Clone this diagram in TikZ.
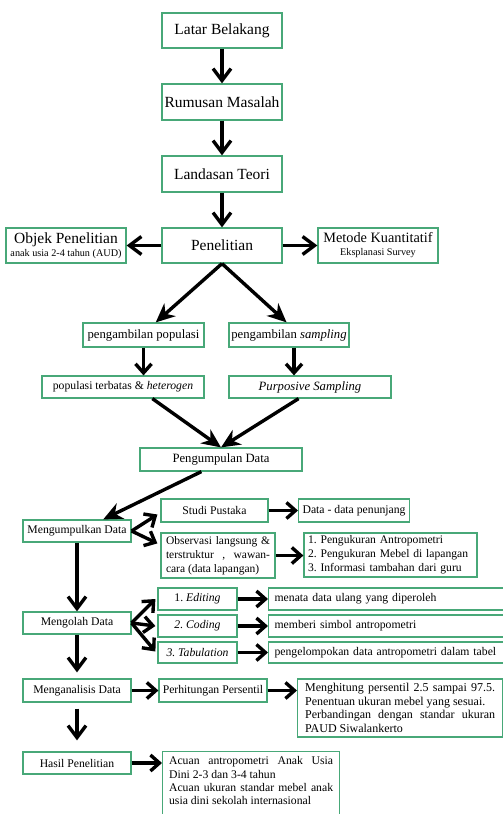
\documentclass[tikz,border=0pt]{standalone}
\usepackage{fontspec}
\setmainfont{Liberation Serif}
\usetikzlibrary{arrows.meta,calc}
\definecolor{bgreen}{RGB}{72,168,120}
\frenchspacing
\tikzset{
  box/.style={draw=bgreen, line width=1.2pt, inner sep=0pt, align=center, fill=white},
  big/.style={font=\fontsize{15.5}{18}\selectfont},
  mid/.style={font=\fontsize{12.7}{15}\selectfont},
  sml/.style={font=\fontsize{11.7}{14}\selectfont},
  arr/.style={line width=3.4pt, -{Straight Barb[length=12pt,width=18pt]}},
  arrs/.style={line width=3.4pt, -{Straight Barb[length=9pt,width=16pt]}},
  darr/.style={line width=3.4pt, -{Stealth[length=19pt,width=17pt,inset=6pt]}},
}
\begin{document}
\begin{tikzpicture}[x=1pt,y=-1pt]
\useasboundingbox (0,0) rectangle (503,814);
\fill[white] (0,0) rectangle (503,814);
\clip (0,0) rectangle (503,814);

% top column
\node[box,big,minimum width=120pt,minimum height=35pt] (lb) at (222,30.5) {Latar Belakang};
\node[box,big,minimum width=120pt,minimum height=36pt] (rm) at (222,102) {Rumusan Masalah};
\node[box,big,minimum width=120pt,minimum height=36pt] (lt) at (222,174) {Landasan Teori};
\node[box,big,minimum width=120pt,minimum height=35pt] (pen) at (222,245.5) {Penelitian};
\node[box,minimum width=120pt,minimum height=35pt] (obj) at (66,245.5)
  {{\fontsize{15.5}{17}\selectfont Objek Penelitian}\\[1pt]{\fontsize{10.2}{12}\selectfont anak usia 2-4 tahun (AUD)}};
\node[box,minimum width=120pt,minimum height=35pt] (met) at (378,245.5)
  {{\fontsize{14.3}{16}\selectfont Metode Kuantitatif}\\[1pt]{\fontsize{10.2}{12}\selectfont Eksplanasi Survey}};

% sampling
\node[box,mid,minimum width=121pt,minimum height=24pt] (pp) at (143.5,335) {pengambilan populasi};
\node[box,mid,minimum width=120pt,minimum height=24pt] (ps) at (289,335) {pengambilan \textit{sampling}};
\node[box,sml,minimum width=162pt,minimum height=22pt] (pt) at (123,387) {populasi terbatas \& \textit{heterogen}};
\node[box,mid,minimum width=162pt,minimum height=22pt] (pur) at (310,387) {\textit{Purposive Sampling}};
\node[box,mid,minimum width=162pt,minimum height=23pt] (pd) at (221,459.5) {Pengumpulan Data};

% mengumpulkan
\node[box,sml,minimum width=108pt,minimum height=22pt] (md) at (77,531) {Mengumpulkan Data};
\node[box,sml,minimum width=107pt,minimum height=23pt] (sp) at (214.5,510.5) {Studi Pustaka};
\node[box,sml,minimum width=108pt,minimum height=23pt,anchor=west,inner xsep=4pt] (ddp) at (298,510.5) {Data - data penunjang};
\node[box,font=\fontsize{11.5}{14}\selectfont,minimum width=114pt,minimum height=45pt,text width=104pt,align=justify,inner xsep=5pt] (obs) at (218,555.5)
  {Observasi langsung \&\linebreak terstruktur , wawan-\linebreak cara (data lapangan)};
\node[box,font=\fontsize{11.6}{14}\selectfont,minimum width=173pt,minimum height=44pt,text width=165pt,align=left,inner xsep=4pt] (lst) at (390.5,555)
  {1. Pengukuran Antropometri\\2. Pengukuran Mebel di lapangan\\3. Informasi tambahan dari guru};

% mengolah
\node[box,sml,minimum width=108pt,minimum height=22pt] (mo) at (77,623) {Mengolah Data};
\node[box,sml,minimum width=79pt,minimum height=22pt] (ed) at (197.5,599) {1. \textit{Editing}};
\node[box,sml,minimum width=79pt,minimum height=22pt] (co) at (197.5,626) {\textit{2. Coding}};
\node[box,sml,minimum width=79pt,minimum height=21pt] (ta) at (197.5,652.5) {\textit{3. Tabulation}};
\node[box,sml,minimum height=22pt,text width=250pt,align=left,inner xsep=6pt,anchor=west] (men) at (268,599) {menata data ulang yang diperoleh};
\node[box,sml,minimum height=22pt,text width=250pt,align=left,inner xsep=6pt,anchor=west] (cod) at (268,626) {memberi simbol antropometri};
\node[box,sml,minimum height=21pt,text width=250pt,align=left,inner xsep=6pt,anchor=west] (tab) at (268,652.5) {pengelompokan data antropometri dalam tabel};

% menganalisis
\node[box,sml,minimum width=108pt,minimum height=23pt] (ma) at (77,690.5) {Menganalisis Data};
\node[box,sml,minimum width=108pt,minimum height=23pt] (per) at (213,690.5) {Perhitungan Persentil};
\node[box,font=\fontsize{12}{13.7}\selectfont,minimum width=205pt,minimum height=58pt,text width=190pt,align=justify,inner xsep=7.5pt,anchor=west] (pbx) at (297,708)
  {Menghitung persentil 2.5 sampai 97.5.\linebreak Penentuan ukuran mebel yang sesuai.\\Perbandingan dengan standar ukuran\linebreak PAUD Siwalankerto};

% hasil
\node[box,sml,minimum width=108pt,minimum height=22pt] (hp) at (77,763) {Hasil Penelitian};
\node[box,font=\fontsize{11.7}{13.4}\selectfont,text width=164pt,align=justify,inner xsep=6.5pt,inner ysep=5pt,anchor=north west] (ac) at (162,751)
  {Acuan antropometri Anak Usia\linebreak Dini 2-3 dan 3-4 tahun\\Acuan ukuran standar mebel anak\linebreak usia dini sekolah internasional\par\rule{0pt}{30pt}};

% connectors
\draw[arr] (lb) -- (rm);
\draw[arr] (rm) -- (lt);
\draw[arr] (lt) -- (pen);
\draw[arr] (pen) -- (obj);
\draw[arr] (pen) -- (met);
\draw[darr] (pen.south) -- ($(pp.north west)!0.6!(pp.north east)$);
\draw[darr] (pen.south) -- ($(ps.north west)!0.48!(ps.north east)$);
\draw[arrs] (pp.south) -- (pp.south |- pt.north);
\draw[arrs] ($(ps.south)+(5,0)$) -- ($(ps.south |- pur.north)+(5,0)$);
\draw[darr] ($(pt.south west)!0.68!(pt.south east)$) -- (pd.north);
\draw[darr] ($(pur.south west)!0.43!(pur.south east)$) -- (pd.north);
\draw[darr] ($(pd.south west)!0.38!(pd.south east)$) -- ($(md.north west)!0.74!(md.north east)$);
\draw[arrs] (md.east) -- ($(sp.west)+(-3,4)$);
\draw[arrs] (md.east) -- ($(obs.north west)+(-3,11)$);
\draw[arrs] (sp) -- (ddp);
\draw[arrs] (obs.east) -- (obs.east -| lst.west);
\draw[arr] (md) -- (mo);
\draw[arrs] (mo.east) -- ($(ed.west)+(-2,0)$);
\draw[arrs] (mo.east) -- ($(co.west)+(-2,0)$);
\draw[arrs] (mo.east) -- ($(ta.west)+(-2,-1)$);
\draw[arrs] (ed) -- (men);
\draw[arrs] (co) -- (cod);
\draw[arrs] (ta) -- (tab);
\draw[arr] (mo) -- ($(ma.north)+(0,-6)$);
\draw[arrs] (ma) -- (per);
\draw[arrs] (per) -- (per -| pbx.west);
\draw[arr] ($(ma.south)+(0,6)$) -- ($(hp.north)+(0,-11)$);
\draw[arrs] (hp) -- (hp -| ac.west);
\end{tikzpicture}
\end{document}
